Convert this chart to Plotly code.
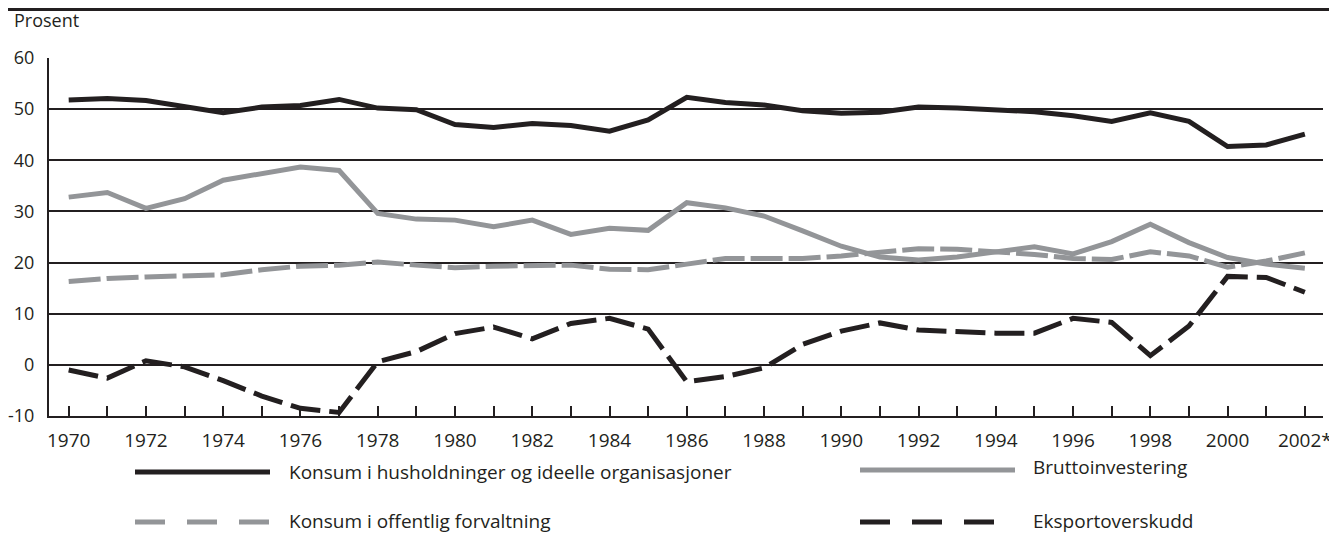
import plotly.graph_objects as go

years = list(range(1970, 2003))
year_labels = [str(y) if y % 2 == 0 else "" for y in years]
year_labels[-1] = "2002*"

husholdninger = [51.8, 52.1, 51.7, 50.5, 49.3, 50.4, 50.7, 51.9, 50.2, 49.9,
                 47.0, 46.4, 47.2, 46.8, 45.7, 47.9, 52.3, 51.3, 50.8, 49.7,
                 49.2, 49.4, 50.4, 50.2, 49.9, 49.5, 48.7, 47.6, 49.3, 47.6,
                 42.7, 43.0, 45.1]
brutto = [32.8, 33.7, 30.6, 32.5, 36.1, 37.4, 38.7, 38.0, 29.6, 28.5,
          28.3, 27.0, 28.3, 25.5, 26.7, 26.3, 31.7, 30.7, 29.1, 26.2,
          23.2, 21.1, 20.5, 21.1, 22.0, 23.1, 21.7, 24.1, 27.5, 23.9,
          21.0, 19.7, 18.9]
offentlig = [16.3, 16.9, 17.2, 17.4, 17.6, 18.6, 19.3, 19.5, 20.1, 19.5,
             19.0, 19.3, 19.5, 19.5, 18.7, 18.6, 19.7, 20.8, 20.8, 20.8,
             21.3, 21.9, 22.7, 22.6, 22.1, 21.6, 20.8, 20.6, 22.1, 21.3,
             19.1, 20.3, 21.9]
eksport = [-1.0, -2.6, 0.8, -0.4, -3.1, -6.1, -8.5, -9.3, 0.6, 2.6,
           6.1, 7.4, 5.1, 8.1, 9.1, 7.0, -3.3, -2.3, -0.6, 4.0,
           6.6, 8.2, 6.8, 6.5, 6.2, 6.2, 9.1, 8.3, 1.8, 7.6,
           17.3, 17.1, 14.2]

series_names = ["Konsum i husholdninger og ideelle organisasjoner",
                "Bruttoinvestering",
                "Konsum i offentlig forvaltning",
                "Eksportoverskudd"]
y_ticks = [-10, 0, 10, 20, 30, 40, 50, 60]
y_labels = ["-10", "0", "10", "20", "30", "40", "50", "60"]

BLACK = "#231f20"
GREY = "#939598"
FONT = "Open Sans"

# page body has an 8px margin: figure is placed at (8, 8)
O = 8
W, H = 1337 - O, 538 - O
L, T = 49 - O, 58 - O
R = W - (1323 - O)
B = H - (416 - O)
PW, PH = W - L - R, H - T - B


def px(x):
    return (x - O - L) / PW


def py(y):
    return (H - B - (y - O)) / PH


fig = go.Figure()
fig.add_trace(go.Scatter(x=years, y=offentlig, mode="lines", name=series_names[2],
                         line=dict(color=GREY, width=5, dash="32px,6px")))
fig.add_trace(go.Scatter(x=years, y=brutto, mode="lines", name=series_names[1],
                         line=dict(color=GREY, width=5)))
fig.add_trace(go.Scatter(x=years, y=eksport, mode="lines", name=series_names[3],
                         line=dict(color=BLACK, width=5, dash="30px,9px")))
fig.add_trace(go.Scatter(x=years, y=husholdninger, mode="lines", name=series_names[0],
                         line=dict(color=BLACK, width=5)))

fig.update_layout(
    width=W, height=H,
    margin=dict(l=L, r=R, t=T, b=B, autoexpand=False),
    paper_bgcolor="white", plot_bgcolor="white",
    showlegend=False,
    font=dict(family=FONT, size=19, color=BLACK),
    xaxis=dict(range=[1969.49, 2002.47], tickvals=years, ticktext=year_labels,
               ticks="inside", ticklen=10, tickwidth=2, tickcolor=BLACK,
               showline=True, linecolor=BLACK, linewidth=2, showgrid=False,
               zeroline=False, tickfont=dict(size=19, color=BLACK),
               ticklabelstandoff=6, automargin=False),
    yaxis=dict(range=[-10, 60], tickvals=y_ticks, ticktext=y_labels, showgrid=True,
               gridcolor=BLACK, gridwidth=2, zeroline=True, zerolinecolor=BLACK,
               zerolinewidth=2, showline=True, linecolor=BLACK, linewidth=2,
               ticks="", tickfont=dict(size=18, color=BLACK),
               ticklabelstandoff=9, automargin=False),
)

shapes = [
    dict(type="line", xref="paper", yref="paper", x0=px(8), x1=px(1337),
         y0=py(9.5), y1=py(9.5), line=dict(color=BLACK, width=3)),
    dict(type="line", xref="paper", yref="paper", x0=px(135), x1=px(270),
         y0=py(472), y1=py(472), line=dict(color=BLACK, width=5)),
    dict(type="line", xref="paper", yref="paper", x0=px(860), x1=px(1015),
         y0=py(470), y1=py(470), line=dict(color=GREY, width=5)),
    dict(type="line", xref="paper", yref="paper", x0=px(135), x1=px(270),
         y0=py(522), y1=py(522), line=dict(color=GREY, width=5, dash="30px,22px")),
    dict(type="line", xref="paper", yref="paper", x0=px(860), x1=px(1015),
         y0=py(522), y1=py(522), line=dict(color=BLACK, width=5, dash="30px,22px")),
]
fig.update_layout(shapes=shapes)

annos = [
    dict(text="Prosent", x=px(12), y=py(20), size=18),
    dict(text=series_names[0], x=px(287), y=py(472), size=19),
    dict(text=series_names[1], x=px(1031), y=py(467), size=19),
    dict(text=series_names[2], x=px(287), y=py(521), size=19),
    dict(text=series_names[3], x=px(1031), y=py(521), size=19),
]
for a in annos:
    size = a.pop("size")
    a.update(xref="paper", yref="paper", showarrow=False, xanchor="left",
             yanchor="middle", font=dict(family=FONT, size=size, color=BLACK))
fig.update_layout(annotations=annos)

fig.write_html("out.html")
